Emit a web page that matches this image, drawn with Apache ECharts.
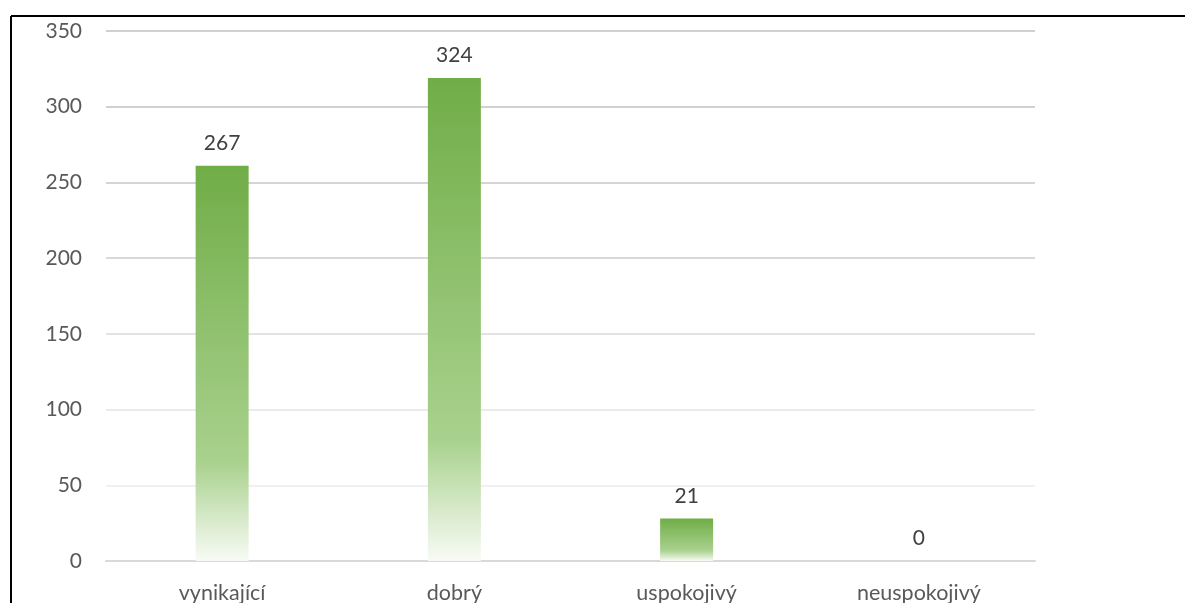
<!DOCTYPE html>
<html>
<head>
<meta charset="utf-8">
<script src="https://cdn.jsdelivr.net/npm/echarts@6/dist/echarts.min.js"></script>
<style>
html,body{margin:0;padding:0;background:#fff;}
#chart{width:1185px;height:603px;}
</style>
</head>
<body>
<div id="chart"></div>
<script>
// Data
const categories = ['vynikající', 'dobrý', 'uspokojivý', 'neuspokojivý'];
const barValues = [261, 319, 28, 0];          // bar heights as drawn
const labelTexts = ['267', '324', '21', '0']; // data labels as printed
const yTicks = [0, 50, 100, 150, 200, 250, 300, 350];

const chart = echarts.init(document.getElementById('chart'), null, {renderer: 'canvas'});
const font = 'Lato, "Open Sans", sans-serif';
const gridColors = ['#d9d9d9', '#f0f0f0', '#ebebeb', '#e3e3e3', '#d9d9d9', '#d5d5d5', '#d1d1d1', '#d0d0d0'];

chart.setOption({
  animation: false,
  backgroundColor: '#ffffff',
  graphic: [
    {type: 'line', shape: {x1: 11, y1: 16, x2: 1185, y2: 16}, style: {stroke: '#000', lineWidth: 2}},
    {type: 'line', shape: {x1: 11, y1: 16, x2: 11, y2: 603}, style: {stroke: '#000', lineWidth: 2}}
  ],
  grid: {left: 106, right: 150, top: 31, bottom: 42, containLabel: false, outerBoundsMode: 'none'},
  xAxis: {
    type: 'category',
    data: categories,
    axisLine: {show: true, lineStyle: {color: '#d9d9d9', width: 2}},
    axisTick: {show: false},
    axisLabel: {color: '#595959', fontSize: 21.5, fontFamily: font, margin: 21}
  },
  yAxis: {
    type: 'value',
    min: yTicks[0],
    max: yTicks[yTicks.length - 1],
    interval: 50,
    axisLine: {show: false},
    axisTick: {show: false},
    axisLabel: {color: '#595959', fontSize: 21, fontFamily: font, margin: 24},
    splitLine: {show: true, lineStyle: {color: gridColors, width: 2}}
  },
  series: [{
    type: 'bar',
    data: barValues,
    barWidth: 53,
    itemStyle: {
      color: new echarts.graphic.LinearGradient(0, 0, 0, 1, [
        {offset: 0, color: '#70AD47'},
        {offset: 0.75, color: '#A9D18E'},
        {offset: 1, color: '#F8FBF5'}
      ])
    },
    label: {
      show: true,
      position: 'top',
      distance: 12,
      color: '#404040',
      fontSize: 21,
      fontFamily: font,
      formatter: p => labelTexts[p.dataIndex]
    }
  }]
});
</script>
</body>
</html>
